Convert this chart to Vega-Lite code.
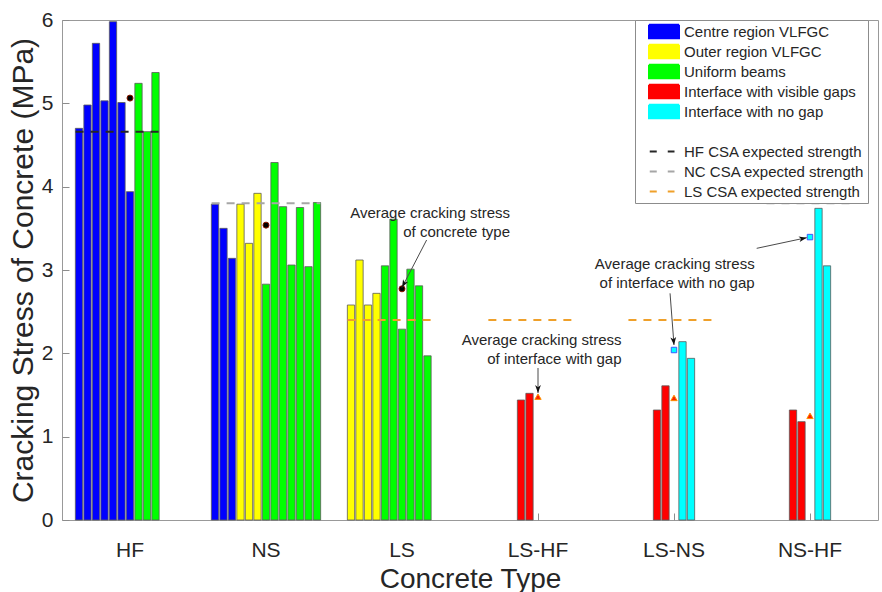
{
  "$schema": "https://vega.github.io/schema/vega-lite/v6.json",
  "autosize": "none",
  "width": 816,
  "height": 500,
  "padding": {"left": 62, "top": 20, "right": 4, "bottom": 72},
  "background": "white",
  "config": {
    "font": "Liberation Sans",
    "view": {"stroke": "#999999", "strokeWidth": 1},
    "axis": {
      "labelFont": "Liberation Sans",
      "titleFont": "Liberation Sans",
      "labelColor": "#262626",
      "titleColor": "#262626",
      "titleFontWeight": "normal",
      "grid": false,
      "domain": false,
      "tickColor": "#8c8c8c",
      "tickSize": -7,
      "tickWidth": 1
    }
  },
  "datasets": {
    "beams": [
      {"group": "HF", "series": "Centre region VLFGC", "slot": -6, "stress": 4.70},
      {"group": "HF", "series": "Centre region VLFGC", "slot": -5, "stress": 4.98},
      {"group": "HF", "series": "Centre region VLFGC", "slot": -4, "stress": 5.72},
      {"group": "HF", "series": "Centre region VLFGC", "slot": -3, "stress": 5.03},
      {"group": "HF", "series": "Centre region VLFGC", "slot": -2, "stress": 5.98},
      {"group": "HF", "series": "Centre region VLFGC", "slot": -1, "stress": 5.01},
      {"group": "HF", "series": "Centre region VLFGC", "slot": 0, "stress": 3.94},
      {"group": "HF", "series": "Uniform beams", "slot": 1, "stress": 5.24},
      {"group": "HF", "series": "Uniform beams", "slot": 2, "stress": 4.66},
      {"group": "HF", "series": "Uniform beams", "slot": 3, "stress": 5.37},
      {"group": "NS", "series": "Centre region VLFGC", "slot": -6, "stress": 3.79},
      {"group": "NS", "series": "Centre region VLFGC", "slot": -5, "stress": 3.50},
      {"group": "NS", "series": "Centre region VLFGC", "slot": -4, "stress": 3.14},
      {"group": "NS", "series": "Outer region VLFGC", "slot": -3, "stress": 3.79},
      {"group": "NS", "series": "Outer region VLFGC", "slot": -2, "stress": 3.32},
      {"group": "NS", "series": "Outer region VLFGC", "slot": -1, "stress": 3.92},
      {"group": "NS", "series": "Uniform beams", "slot": 0, "stress": 2.83},
      {"group": "NS", "series": "Uniform beams", "slot": 1, "stress": 4.29},
      {"group": "NS", "series": "Uniform beams", "slot": 2, "stress": 3.76},
      {"group": "NS", "series": "Uniform beams", "slot": 3, "stress": 3.06},
      {"group": "NS", "series": "Uniform beams", "slot": 4, "stress": 3.75},
      {"group": "NS", "series": "Uniform beams", "slot": 5, "stress": 3.04},
      {"group": "NS", "series": "Uniform beams", "slot": 6, "stress": 3.81},
      {"group": "LS", "series": "Outer region VLFGC", "slot": -6, "stress": 2.58},
      {"group": "LS", "series": "Outer region VLFGC", "slot": -5, "stress": 3.12},
      {"group": "LS", "series": "Outer region VLFGC", "slot": -4, "stress": 2.58},
      {"group": "LS", "series": "Outer region VLFGC", "slot": -3, "stress": 2.72},
      {"group": "LS", "series": "Uniform beams", "slot": -2, "stress": 3.05},
      {"group": "LS", "series": "Uniform beams", "slot": -1, "stress": 3.61},
      {"group": "LS", "series": "Uniform beams", "slot": 0, "stress": 2.29},
      {"group": "LS", "series": "Uniform beams", "slot": 1, "stress": 3.01},
      {"group": "LS", "series": "Uniform beams", "slot": 2, "stress": 2.81},
      {"group": "LS", "series": "Uniform beams", "slot": 3, "stress": 1.97},
      {"group": "LS-HF", "series": "Interface with visible gaps", "slot": -2, "stress": 1.44},
      {"group": "LS-HF", "series": "Interface with visible gaps", "slot": -1, "stress": 1.52},
      {"group": "LS-NS", "series": "Interface with visible gaps", "slot": -2, "stress": 1.32},
      {"group": "LS-NS", "series": "Interface with visible gaps", "slot": -1, "stress": 1.61},
      {"group": "LS-NS", "series": "Interface with no gap", "slot": 1, "stress": 2.14},
      {"group": "LS-NS", "series": "Interface with no gap", "slot": 2, "stress": 1.94},
      {"group": "NS-HF", "series": "Interface with visible gaps", "slot": -2, "stress": 1.32},
      {"group": "NS-HF", "series": "Interface with visible gaps", "slot": -1, "stress": 1.18},
      {"group": "NS-HF", "series": "Interface with no gap", "slot": 1, "stress": 3.74},
      {"group": "NS-HF", "series": "Interface with no gap", "slot": 2, "stress": 3.05}
    ],
    "expected": [
      {"line": "HF CSA expected strength", "strength": 4.66, "from": 0.60, "to": 1.21},
      {"line": "NC CSA expected strength", "strength": 3.80, "from": 1.60, "to": 2.40},
      {"line": "LS CSA expected strength", "strength": 2.40, "from": 2.60, "to": 3.22},
      {"line": "LS CSA expected strength", "strength": 2.40, "from": 3.635, "to": 4.25},
      {"line": "LS CSA expected strength", "strength": 2.40, "from": 4.665, "to": 5.28},
      {"line": "NC CSA expected strength", "strength": 3.80, "from": 5.68, "to": 6.295}
    ]
  },
  "resolve": {
    "scale": {"x": "independent"},
    "axis": {"x": "independent", "y": "independent"}
  },
  "layer": [
    {
      "data": {"name": "beams"},
      "encoding": {
        "x": {
          "field": "group",
          "type": "nominal",
          "title": "Concrete Type",
          "scale": {"domain": ["HF", "NS", "LS", "LS-HF", "LS-NS", "NS-HF"], "paddingInner": 0, "paddingOuter": 0},
          "axis": {"orient": "bottom", "labelAngle": 0, "labelFontSize": 21, "titleFontSize": 28, "labelPadding": 26, "titlePadding": 5, "tickSize": -7, "domain": false}
        },
        "y": {
          "field": "stress",
          "type": "quantitative",
          "title": "Cracking Stress of Concrete (MPa)",
          "scale": {"domain": [0, 6], "nice": false, "zero": true},
          "axis": {"orient": "left", "values": [0, 1, 2, 3, 4, 5, 6], "labelFontSize": 21, "titleFontSize": 30, "labelPadding": 16, "titlePadding": 3, "tickSize": -7, "domain": false}
        },
        "xOffset": {
          "field": "slot",
          "type": "ordinal",
          "scale": {"domain": [-7, -6, -5, -4, -3, -2, -1, 0, 1, 2, 3, 4, 5, 6, 7], "paddingInner": 0.14, "paddingOuter": 0.57}
        }
      },
      "layer": [
        {
          "mark": {"type": "bar"},
          "encoding": {
            "color": {
              "field": "series",
              "type": "nominal",
              "scale": {
                "domain": ["Centre region VLFGC", "Outer region VLFGC", "Uniform beams", "Interface with visible gaps", "Interface with no gap", " ", "HF CSA expected strength", "NC CSA expected strength", "LS CSA expected strength"],
                "range": ["#0000ff", "#ffff00", "#00ff00", "#ff0000", "#00ffff", "transparent", "#262626", "#a6a6a6", "#efa02a"]
              },
              "legend": {
                "title": null,
                "orient": "none",
                "legendX": 573,
                "legendY": 0,
                "padding": 3,
                "symbolOffset": 10,
                "gridAlign": "all",
                "rowPadding": -3,
                "labelOffset": 19,
                "labelFontSize": 15,
                "labelFont": "Liberation Sans",
                "labelColor": "#262626",
                "labelLimit": 400,
                "strokeColor": "#8c8c8c",
                "fillColor": "white",
                "symbolSize": 225,
                "symbolStrokeWidth": 2,
                "symbolOpacity": 1,
                "symbolType": {"expr": "indexof(datum.value, 'CSA') >= 0 ? 'M-0.9,0H2.4' : 'M-1,-0.9H3V0.9H-1Z'"},
                "symbolDash": {"expr": "indexof(datum.value, 'CSA') >= 0 ? [7, 11] : [1, 0]"},
                "symbolStrokeColor": {"expr": "indexof(datum.value, 'CSA') >= 0 ? scale('color', datum.value) : 'transparent'"}
              }
            }
          }
        },
        {
          "mark": {"type": "bar", "filled": false, "fill": "transparent", "stroke": "#5a5a5a", "strokeWidth": 0.8}
        },
        {
          "transform": [
            {"filter": {"field": "group", "oneOf": ["HF", "NS", "LS"]}},
            {"aggregate": [{"op": "mean", "field": "stress", "as": "stress"}], "groupby": ["group"]}
          ],
          "mark": {"type": "point", "shape": "circle", "filled": true, "fill": "#000000", "stroke": "#8b1a00", "strokeWidth": 1, "size": 36, "opacity": 1},
          "encoding": {"xOffset": null}
        },
        {
          "transform": [
            {"filter": {"field": "series", "equal": "Interface with visible gaps"}},
            {"aggregate": [{"op": "mean", "field": "stress", "as": "stress"}], "groupby": ["group"]}
          ],
          "mark": {"type": "point", "shape": "triangle-up", "filled": true, "fill": "#ff2200", "stroke": "#ff9000", "strokeWidth": 1, "size": 40, "opacity": 1},
          "encoding": {"xOffset": null}
        },
        {
          "transform": [
            {"filter": {"field": "series", "equal": "Interface with no gap"}},
            {"aggregate": [{"op": "mean", "field": "stress", "as": "stress"}], "groupby": ["group"]}
          ],
          "mark": {"type": "point", "shape": "square", "filled": true, "fill": "#00ffff", "stroke": "#3a5cff", "strokeWidth": 1, "size": 30, "opacity": 1},
          "encoding": {"xOffset": null}
        }
      ]
    },
    {
      "data": {"values": [{}]},
      "layer": [
        {
          "data": {"name": "expected"},
          "mark": {"type": "rule", "strokeWidth": 2, "strokeDash": [8, 7]},
          "encoding": {
            "x": {
              "field": "from",
              "type": "quantitative",
              "scale": {"domain": [0.5, 6.5], "nice": false, "zero": false},
              "axis": {"orient": "top", "values": [1, 2, 3, 4, 5, 6], "labels": false, "title": null, "tickSize": -7, "domain": false}
            },
            "x2": {"field": "to"},
            "y": {
              "field": "strength",
              "type": "quantitative",
              "axis": {"orient": "right", "values": [0, 1, 2, 3, 4, 5, 6], "labels": false, "title": null, "tickSize": -7, "domain": false}
            },
            "color": {"field": "line", "type": "nominal", "legend": null}
          }
        },
        {
          "mark": {"type": "rule", "stroke": "#4a4a4a", "strokeWidth": 1},
          "encoding": {
            "x": {"datum": 3.181, "type": "quantitative", "axis": null},
            "y": {"datum": 3.36, "type": "quantitative", "axis": null},
            "x2": {"datum": 3.0},
            "y2": {"datum": 2.79}
          }
        },
        {
          "mark": {"type": "rule", "stroke": "#4a4a4a", "strokeWidth": 1},
          "encoding": {
            "x": {"datum": 4.971, "type": "quantitative", "axis": null},
            "y": {"datum": 2.72, "type": "quantitative", "axis": null},
            "x2": {"datum": 5.0},
            "y2": {"datum": 2.1}
          }
        },
        {
          "mark": {"type": "rule", "stroke": "#4a4a4a", "strokeWidth": 1},
          "encoding": {
            "x": {"datum": 5.608, "type": "quantitative", "axis": null},
            "y": {"datum": 3.26, "type": "quantitative", "axis": null},
            "x2": {"datum": 5.976},
            "y2": {"datum": 3.388}
          }
        },
        {
          "mark": {"type": "rule", "stroke": "#4a4a4a", "strokeWidth": 1},
          "encoding": {
            "x": {"datum": 4.0, "type": "quantitative", "axis": null},
            "y": {"datum": 1.824, "type": "quantitative", "axis": null},
            "x2": {"datum": 4.0},
            "y2": {"datum": 1.525}
          }
        },
        {
          "mark": {"type": "point", "shape": "M0,0L-0.55,-1.5L0,-1.1L0.55,-1.5Z", "filled": true, "fill": "#111111", "strokeWidth": 0, "size": 110, "angle": 27.4, "opacity": 1},
          "encoding": {
            "x": {"datum": 3.0, "type": "quantitative", "axis": null},
            "y": {"datum": 2.79, "type": "quantitative", "axis": null}
          }
        },
        {
          "mark": {"type": "point", "shape": "M0,0L-0.55,-1.5L0,-1.1L0.55,-1.5Z", "filled": true, "fill": "#111111", "strokeWidth": 0, "size": 110, "angle": 354.5, "opacity": 1},
          "encoding": {
            "x": {"datum": 5.0, "type": "quantitative", "axis": null},
            "y": {"datum": 2.1, "type": "quantitative", "axis": null}
          }
        },
        {
          "mark": {"type": "point", "shape": "M0,0L-0.55,-1.5L0,-1.1L0.55,-1.5Z", "filled": true, "fill": "#111111", "strokeWidth": 0, "size": 110, "angle": 258, "opacity": 1},
          "encoding": {
            "x": {"datum": 5.976, "type": "quantitative", "axis": null},
            "y": {"datum": 3.388, "type": "quantitative", "axis": null}
          }
        },
        {
          "mark": {"type": "point", "shape": "M0,0L-0.55,-1.5L0,-1.1L0.55,-1.5Z", "filled": true, "fill": "#111111", "strokeWidth": 0, "size": 110, "angle": 0, "opacity": 1},
          "encoding": {
            "x": {"datum": 4.0, "type": "quantitative", "axis": null},
            "y": {"datum": 1.525, "type": "quantitative", "axis": null}
          }
        },
        {
          "mark": {"type": "text", "text": ["Average cracking stress", "of concrete type"], "align": "right", "baseline": "alphabetic", "fontSize": 15, "lineHeight": 19, "font": "Liberation Sans", "color": "#262626"},
          "encoding": {
            "x": {"datum": 3.794, "type": "quantitative", "axis": null},
            "y": {"datum": 3.624, "type": "quantitative", "axis": null}
          }
        },
        {
          "mark": {"type": "text", "text": ["Average cracking stress", "of interface with no gap"], "align": "right", "baseline": "alphabetic", "fontSize": 15, "lineHeight": 19, "font": "Liberation Sans", "color": "#262626"},
          "encoding": {
            "x": {"datum": 5.593, "type": "quantitative", "axis": null},
            "y": {"datum": 3.012, "type": "quantitative", "axis": null}
          }
        },
        {
          "mark": {"type": "text", "text": ["Average cracking stress", "of interface with gap"], "align": "right", "baseline": "alphabetic", "fontSize": 15, "lineHeight": 19, "font": "Liberation Sans", "color": "#262626"},
          "encoding": {
            "x": {"datum": 4.614, "type": "quantitative", "axis": null},
            "y": {"datum": 2.10, "type": "quantitative", "axis": null}
          }
        }
      ]
    }
  ]
}
